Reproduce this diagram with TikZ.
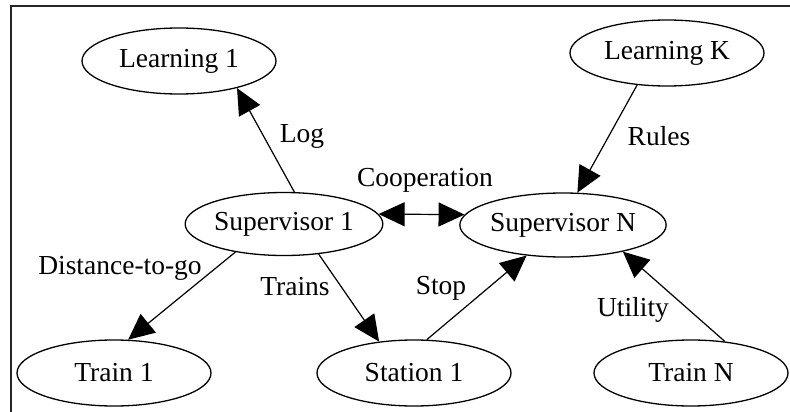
\documentclass[tikz,border=0pt]{standalone}
\usepackage{fontspec}
\setmainfont{Liberation Serif}
\usetikzlibrary{shapes.geometric,arrows.meta}

\tikzset{
  agent/.style={ellipse, draw, line width=1.3pt, inner sep=0pt,
                minimum width=194pt, minimum height=66pt,
                font=\fontsize{27.5}{30}\selectfont},
  link/.style={line width=1.2pt, -{Triangle[length=26pt,width=24pt]}},
  duallink/.style={line width=1.2pt,
                   {Triangle[length=26pt,width=24pt]}-{Triangle[length=26pt,width=24pt]}},
  tag/.style={inner sep=0pt, font=\fontsize{27.5}{30}\selectfont}
}

\begin{document}
\begin{tikzpicture}[x=1pt,y=-1pt]
  \useasboundingbox (0,0) rectangle (790,412);

  % frame (left and top edges)
  \draw[line width=2pt, black!85] (10.5,412) -- (10.5,6.5) -- (790,6.5);

  % agents
  \node[agent] (l1) at (179,61)  {Learning 1};
  \node[agent] (lk) at (667,53)  {Learning K};
  \node[agent, minimum width=192pt, minimum height=63pt] (s1) at (284,224) {Supervisor 1};
  \node[agent, minimum height=64pt] (sn) at (563,225) {Supervisor N};
  \node[agent] (t1) at (114,373) {Train 1};
  \node[agent] (st) at (414,373) {Station 1};
  \node[agent] (tn) at (691,373) {Train N};

  % connections
  \draw[link] (s1.72)   -- (l1.-25);
  \draw[link] (lk.-133) -- (sn.66);
  \draw[duallink] (s1.6) -- (sn.174);
  \draw[link] (s1.-150) -- (t1.67);
  \draw[link] (s1.-41)  -- (st.138);
  \draw[link] (st.69)   -- (sn.-140);
  \draw[link] (tn.43)   -- (sn.-24);

  % connection labels
  \node[tag] (logtag)   at (302,136) {Log};
  \node[tag] (ruletag)  at (659,136) {Rules};
  \node[tag] (cooptag)  at (425,180) {Cooperation};
  \node[tag] (disttag)  at (120,268) {Distance-to-go};
  \node[tag] (traintag) at (295,287) {Trains};
  \node[tag] (stoptag)  at (441,288) {Stop};
  \node[tag] (utiltag)  at (633,310) {Utility};
\end{tikzpicture}
\end{document}
